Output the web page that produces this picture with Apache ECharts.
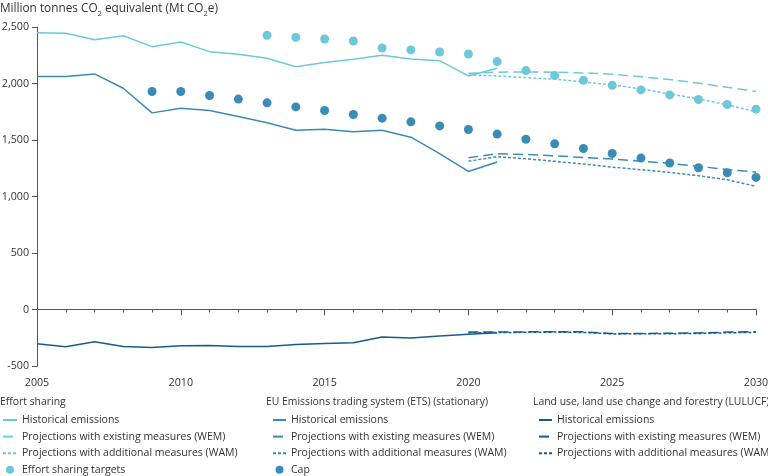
<!DOCTYPE html>
<html>
<head>
<meta charset="utf-8">
<script src="https://cdn.jsdelivr.net/npm/echarts@6/dist/echarts.min.js"></script>
<style>
html,body{margin:0;padding:0;background:#fff;}
#main{width:768px;height:476px;}
</style>
</head>
<body>
<div id="main"></div>
<script>
// ---- data ----
var histYears = [2005,2006,2007,2008,2009,2010,2011,2012,2013,2014,2015,2016,2017,2018,2019,2020,2021];
var projYears = [2020,2021,2022,2023,2024,2025,2026,2027,2028,2029,2030];
var targetYears = [2013,2014,2015,2016,2017,2018,2019,2020,2021,2022,2023,2024,2025,2026,2027,2028,2029,2030];
var capYears = [2009,2010,2011,2012,2013,2014,2015,2016,2017,2018,2019,2020,2021,2022,2023,2024,2025,2026,2027,2028,2029,2030];

var esHist = [2450,2445,2388,2423,2326,2367,2282,2258,2223,2149,2185,2214,2249,2217,2202,2067,2135];
var esWEM = [2090,2100,2102,2100,2094,2082,2060,2035,2003,1966,1929];
var esWAM = [2076,2067,2052,2038,2014,1988,1952,1908,1864,1811,1749];
var esTargets = [2426,2408,2394,2376,2314,2297,2279,2261,2194,2114,2070,2029,1985,1943,1899,1858,1814,1773];

var etsHist = [2061,2061,2085,1958,1740,1781,1761,1708,1652,1587,1596,1572,1587,1525,1380,1222,1305];
var etsWEM = [1343,1378,1372,1360,1345,1331,1313,1293,1266,1240,1215];
var etsWAM = [1313,1352,1334,1311,1287,1260,1237,1213,1184,1148,1090];
var etsCap = [1929,1929,1894,1862,1829,1793,1761,1726,1693,1661,1625,1593,1552,1507,1466,1425,1381,1340,1296,1254,1210,1169];

var luHist = [-303,-330,-285,-327,-336,-321,-318,-327,-327,-309,-300,-294,-244,-252,-235,-218,-206];
var luWEM = [-200,-200,-198,-196,-198,-212,-212,-210,-208,-200,-196];
var luWAM = [-206,-204,-202,-200,-203,-216,-215,-214,-212,-206,-202];

var legendHeaders = ['Effort sharing', 'EU Emissions trading system (ETS) (stationary)', 'Land use, land use change and forestry (LULUCF)'];
var xTickLabels = [2005, 2010, 2015, 2020, 2025, 2030];

// ---- helpers ----
function pairs(xs, ys){ return xs.map(function(x,i){ return [x, ys[i]]; }); }
var C_ES = '#6dc8dc', C_ETS = '#3a8cb7', C_LU = '#175c8f';
var FONT = 'Open Sans';
function lineS(name, xs, ys, color, dash){
  return {
    name: name, type: 'line', xAxisIndex: 0, yAxisIndex: 0, data: pairs(xs, ys),
    symbol: 'none', showSymbol: false, smooth: false,
    lineStyle: { color: color, width: 1.5, type: dash },
    itemStyle: { color: color },
    emphasis: { disabled: true }, animation: false, z: 3
  };
}
function dotS(name, xs, ys, color){
  return {
    name: name, type: 'scatter', xAxisIndex: 0, yAxisIndex: 0, data: pairs(xs, ys),
    symbol: 'circle', symbolSize: 9,
    itemStyle: { color: color, opacity: 1 },
    emphasis: { disabled: true }, animation: false, z: 4
  };
}
var LONG = [10, 5], SHORT = [3, 2];

var series = [
  lineS('ES|Historical emissions', histYears, esHist, C_ES, 'solid'),
  lineS('ES|Projections with existing measures (WEM)', projYears, esWEM, C_ES, LONG),
  lineS('ES|Projections with additional measures (WAM)', projYears, esWAM, C_ES, SHORT),
  dotS('ES|Effort sharing targets', targetYears, esTargets, C_ES),
  lineS('ETS|Historical emissions', histYears, etsHist, C_ETS, 'solid'),
  lineS('ETS|Projections with existing measures (WEM)', projYears, etsWEM, C_ETS, LONG),
  lineS('ETS|Projections with additional measures (WAM)', projYears, etsWAM, C_ETS, SHORT),
  dotS('ETS|Cap', capYears, etsCap, C_ETS),
  lineS('LU|Historical emissions', histYears, luHist, C_LU, 'solid'),
  lineS('LU|Projections with existing measures (WEM)', projYears, luWEM, C_LU, LONG),
  lineS('LU|Projections with additional measures (WAM)', projYears, luWAM, C_LU, SHORT)
];

function legendFor(prefix, left, itemWidth){
  return {
    orient: 'vertical', left: left, top: 414, height: 70, padding: 0,
    itemWidth: itemWidth, itemHeight: 8, itemGap: 4.6,
    selectedMode: false,
    data: series.filter(function(s){ return s.name.indexOf(prefix + '|') === 0; }).map(function(s){
      var item = { name: s.name };
      if (s.type === 'line') item.itemStyle = { opacity: 0 };
      return item;
    }),
    formatter: function(n){ return n.split('|')[1]; },
    textStyle: { fontFamily: FONT, fontSize: 10.5, color: '#333', lineHeight: 12 }
  };
}

var headerStyle = { fontFamily: FONT, fontSize: 10.4, fontWeight: 'normal', color: '#333' };

var option = {
  backgroundColor: '#fff',
  animation: false,
  textStyle: { fontFamily: FONT },
  title: [
    {
      text: '{a|Million tonnes CO}{s|2}{a| equivalent (Mt CO}{s|2}{a|e)}',
      left: 0, top: 0, padding: 0,
      textStyle: {
        fontWeight: 'normal',
        rich: {
          a: { fontFamily: FONT, fontSize: 11.8, fontWeight: 'normal', color: '#333', lineHeight: 15, verticalAlign: 'bottom' },
          s: { fontFamily: FONT, fontSize: 7.5, fontWeight: 'normal', color: '#333', lineHeight: 15, verticalAlign: 'bottom', padding: [0, 0, -3, 0] }
        }
      }
    },
    { text: legendHeaders[0], left: 0, top: 397, padding: 0, textStyle: headerStyle },
    { text: legendHeaders[1], left: 266, top: 397, padding: 0, textStyle: headerStyle },
    { text: legendHeaders[2], left: 533, top: 397, padding: 0, textStyle: headerStyle }
  ],
  legend: [ legendFor('ES', 2, 14), legendFor('ETS', 272, 13), legendFor('LU', 538, 13) ],
  grid: [
    { left: 37, right: 12, top: 27, bottom: 110, containLabel: false, outerBoundsMode: 'none' },
    { left: 37, right: 12, top: 374, height: 15, containLabel: false, outerBoundsMode: 'none' }
  ],
  xAxis: [
    {
      gridIndex: 0,
      type: 'value', min: 2005, max: 2030, interval: 5, position: 'bottom',
      axisLine: { show: true, onZero: true, lineStyle: { color: '#555', width: 1 } },
      axisTick: { show: true, length: 6, lineStyle: { color: '#555' } },
      minorTick: { show: true, splitNumber: 5, length: 3, lineStyle: { color: '#555' } },
      axisLabel: { show: false },
      splitLine: { show: false }
    },
    {
      gridIndex: 1,
      type: 'value', min: 2005, max: 2030, interval: 5, position: 'bottom',
      axisLine: { show: false, onZero: false },
      axisTick: { show: false },
      splitLine: { show: false },
      axisLabel: {
        show: true, inside: true, margin: 1, color: '#333', fontFamily: FONT, fontSize: 10.7,
        formatter: function(v){ return xTickLabels.indexOf(v) >= 0 ? String(v) : ''; }
      }
    }
  ],
  yAxis: [
    {
      gridIndex: 0,
      type: 'value', min: -500, max: 2500, interval: 500,
      axisLine: { show: true, lineStyle: { color: '#555', width: 1 } },
      axisTick: { show: true, length: 5, lineStyle: { color: '#555' } },
      splitLine: { show: false },
      axisLabel: {
        color: '#333', fontFamily: FONT, fontSize: 10.7, margin: 8,
        formatter: function(v){ return v.toLocaleString('en-US'); }
      }
    },
    {
      gridIndex: 1, type: 'value', min: 0, max: 1, show: false,
      axisLine: { show: false }, axisTick: { show: false }, axisLabel: { show: false }, splitLine: { show: false }
    }
  ],
  series: series
};

var chart = echarts.init(document.getElementById('main'), null, { renderer: 'canvas' });
chart.setOption(option);
</script>
</body>
</html>
